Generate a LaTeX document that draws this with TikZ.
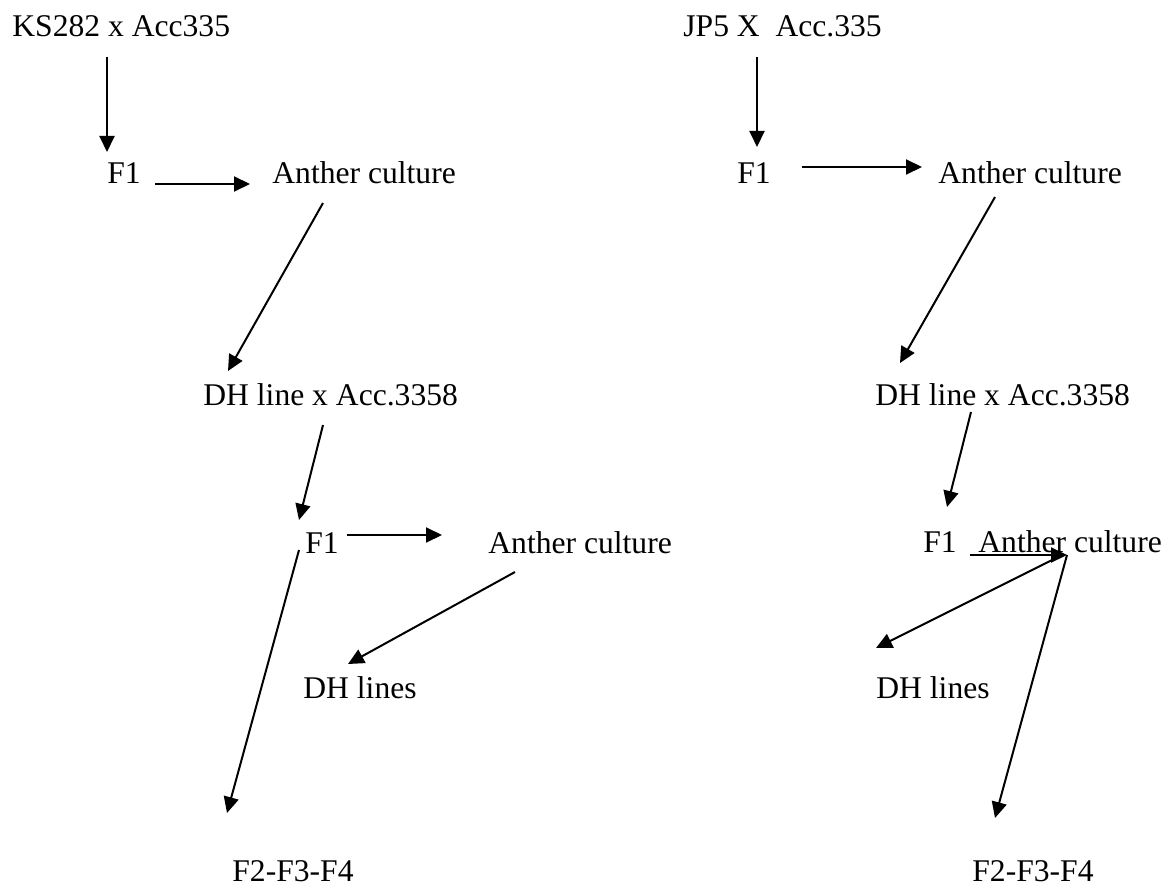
\documentclass[tikz,border=0pt]{standalone}
\usepackage{fontspec}
\setmainfont{Liberation Serif}
\usepackage{tikz}
\usetikzlibrary{arrows.meta,positioning}

\begin{document}
\begin{tikzpicture}[>={Triangle[length=8pt,width=7.5pt]}, x=0.5pt, y=-0.5pt,
  stage/.style={anchor=base west, inner sep=0pt, font=\fontsize{15.8}{19}\selectfont},
  link/.style={->, line width=1pt}
]
  \useasboundingbox (0,0) rectangle (1170,887);

  % -- first cross --
  \node[stage] (ks)   at (12,37)   {KS282 x Acc335};
  \node[stage] (f1a)  at (107,184) {F1};
  \node[stage] (aca)  at (272,184) {Anther culture};
  \node[stage] (dha)  at (203,405) {DH line x Acc.3358};
  \node[stage] (f1b)  at (305,553) {F1};
  \node[stage] (acb)  at (488,553) {Anther culture};
  \node[stage] (dhla) at (303,698) {DH lines};
  \node[stage] (fa)   at (232,881) {F2-F3-F4};

  \draw[link] ([shift={(95,20)}]ks.base west)   -- ([shift={(0,-32)}]f1a.base west);
  \draw[link] ([shift={(48,0)}]f1a.base west)   -- ([shift={(-22,0)}]aca.base west);
  \draw[link] ([shift={(51,19)}]aca.base west)  -- ([shift={(25,-34)}]dha.base west);
  \draw[link] ([shift={(120,20)}]dha.base west) -- ([shift={(-6,-33)}]f1b.base west);
  \draw[link] ([shift={(42,-18)}]f1b.base west) -- ([shift={(-46,-18)}]acb.base west);
  \draw[link] ([shift={(27,19)}]acb.base west)  -- ([shift={(45,-34)}]dhla.base west);
  \draw[link] ([shift={(-6,-3)}]f1b.base west)  -- ([shift={(-5,-68)}]fa.base west);

  % -- second cross --
  \node[stage] (jp)   at (683,37)  {JP5 X\ \ Acc.335};
  \node[stage] (f1c)  at (737,184) {F1};
  \node[stage] (acc)  at (938,184) {Anther culture};
  \node[stage] (dhb)  at (875,405) {DH line x Acc.3358};
  \node[stage] (f1d)  at (923,552) {F1};
  \node[stage] (acd)  at (978,552) {Anther culture};
  \node[stage] (dhlb) at (876,698) {DH lines};
  \node[stage] (fb)   at (972,881) {F2-F3-F4};

  \draw[link] ([shift={(74,20)}]jp.base west)   -- ([shift={(20,-37)}]f1c.base west);
  \draw[link] ([shift={(65,-17)}]f1c.base west) -- ([shift={(-16,-17)}]acc.base west);
  \draw[link] ([shift={(57,13)}]acc.base west)  -- ([shift={(25,-42)}]dhb.base west);
  \draw[link] ([shift={(96,7)}]dhb.base west)   -- ([shift={(24,-45)}]f1d.base west);
  \draw[link] ([shift={(47,3)}]f1d.base west)   -- ([shift={(89,3)}]acd.base west);
  \draw[link] ([shift={(84,3)}]acd.base west)   -- ([shift={(0,-50)}]dhlb.base west);
  \draw[link] ([shift={(89,3)}]acd.base west)   -- ([shift={(23,-63)}]fb.base west);
\end{tikzpicture}
\end{document}
